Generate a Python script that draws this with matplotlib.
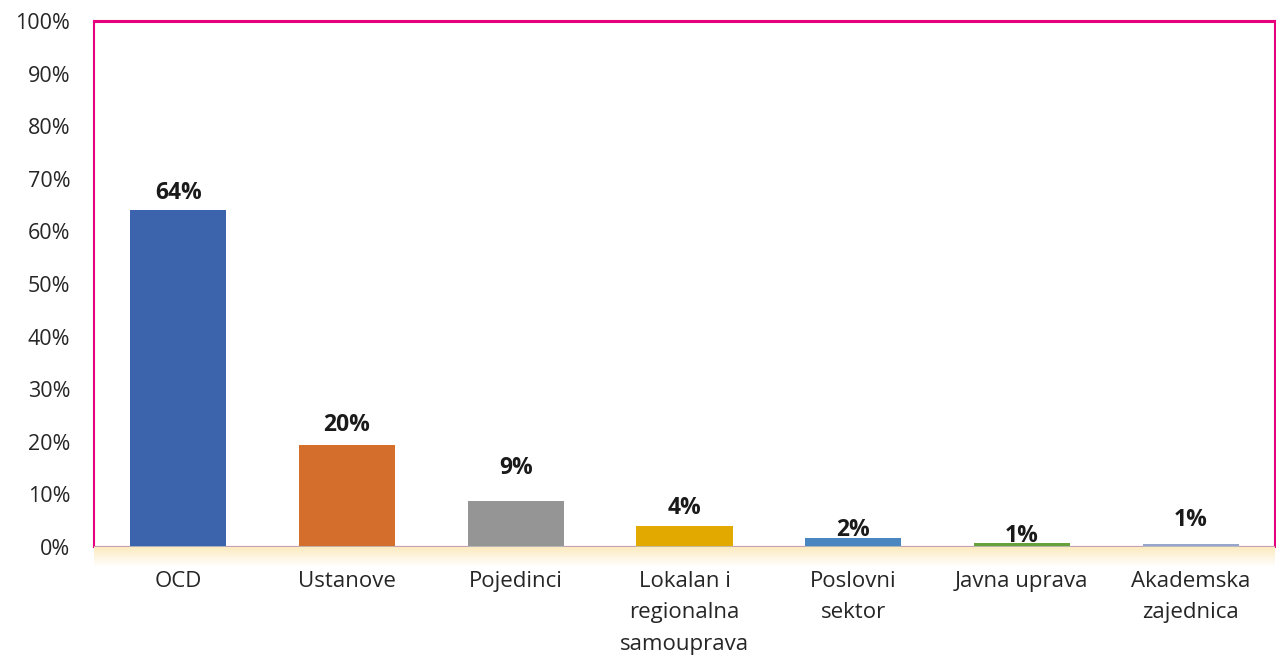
import matplotlib
matplotlib.use("Agg")
import matplotlib.pyplot as plt
import numpy as np
from matplotlib.ticker import FuncFormatter
from matplotlib.colors import LinearSegmentedColormap

categories = ["OCD", "Ustanove", "Pojedinci", "Lokalan i\nregionalna\nsamouprava",
              "Poslovni\nsektor", "Javna uprava", "Akademska\nzajednica"]
values = [64.0, 19.4, 8.8, 4.0, 1.7, 0.8, 0.5]
labels = ["64%", "20%", "9%", "4%", "2%", "1%", "1%"]
colors = ["#3C64AC", "#D36E2C", "#959595", "#E2AA00", "#4A86BF", "#68A03C", "#98A6CC"]
label_offsets = [4, 6, 15, 4, -3, -4, 9]  # points above bar top

plt.rcParams['font.family'] = ['Open Sans', 'DejaVu Sans']

fig = plt.figure(figsize=(12.76, 6.55), dpi=100)
ax = fig.add_axes([94/1276, 108/655, 1181/1276, 526/655])

# soft yellow glow below the plot area
glow = fig.add_axes([94/1276, 88/655, 1181/1276, 20/655])
grad = np.linspace(1, 0, 50).reshape(-1, 1)
cmap = LinearSegmentedColormap.from_list("g", ["#FFFFFF", "#FCEBC0"])
glow.imshow(grad, aspect='auto', cmap=cmap, extent=[0, 1, 0, 1])
glow.axis('off')

x = np.arange(len(categories))
ax.bar(x, values, width=0.57, color=colors, zorder=3)
ax.set_xlim(-0.5, len(categories) - 0.5)
ax.set_ylim(0, 100)
ax.set_yticks(np.arange(0, 101, 10))
ax.yaxis.set_major_formatter(FuncFormatter(lambda v, p: f"{int(v)}%"))
ax.set_xticks(x)
ax.set_xticklabels(categories, fontsize=16, color="#262626", linespacing=1.68)
ax.tick_params(axis='y', length=0, pad=17, labelsize=15.5, labelcolor="#262626")
ax.tick_params(axis='x', length=0, pad=17)
ax.axhline(0, color="#BFBFBF", lw=1.2, zorder=4)

for xi, v, lab, off in zip(x, values, labels, label_offsets):
    ax.annotate(lab, (xi, v), xytext=(0, off), textcoords='offset points',
                ha='center', va='bottom', fontsize=16.5, fontweight='bold', color="#1A1A1A", zorder=5)

for s in ax.spines.values():
    s.set_color("#E6007E")
    s.set_linewidth(1.5)
ax.spines['top'].set_linewidth(2.2)

fig.savefig("out.png", dpi=100)
